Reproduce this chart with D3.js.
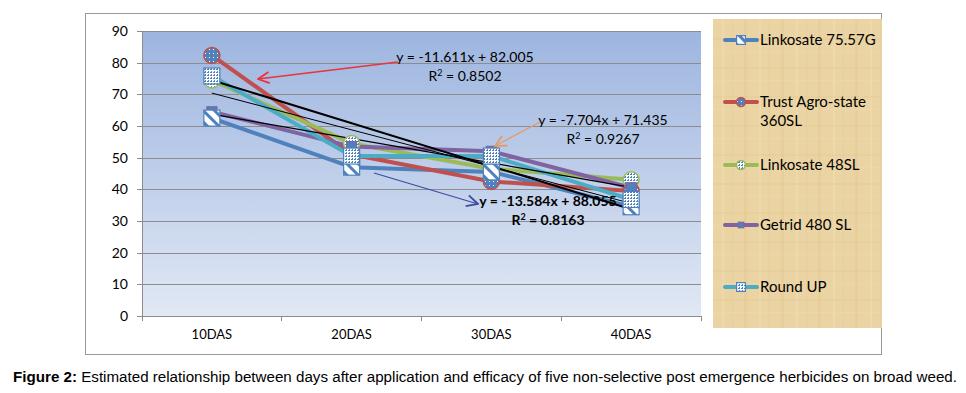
<!DOCTYPE html>
<meta charset="utf-8">
<style>
body { margin: 0; background: #fff; }
svg text { font-family: Lato, "Open Sans", sans-serif; }
.grid line { stroke: #8c8c8c; stroke-width: 1; shape-rendering: crispEdges; }
.axis path, .axis line { stroke: #8c8c8c; stroke-width: 1; shape-rendering: crispEdges; fill: none; }
.axis text { font-size: 14px; fill: #000; }
</style>
<body>
<div id="chart"></div>
<script src="https://d3js.org/d3.v7.min.js"></script>
<script>
// data
var days = ["10DAS", "20DAS", "30DAS", "40DAS"];
var seriesNames = ["Linkosate 75.57G", "Trust Agro-state 360SL", "Linkosate 48SL", "Getrid 480 SL", "Round UP"];
var linkosate7557 = [62.5, 47, 45.5, 34.5];
var trustAgro = [82.3, 51, 42.5, 39.5];
var linkosate48 = [74.5, 54.5, 46.5, 43];
var getrid480 = [64.5, 53.5, 52, 40.5];
var roundUp = [75.8, 50.5, 50.5, 36.8];
var yTicks = [0, 10, 20, 30, 40, 50, 60, 70, 80, 90];
// trendlines: [slope, intercept, R2]
var trendRed = [-11.611, 82.005, 0.8502];
var trendPurple = [-7.704, 71.435, 0.9267];
var trendCyan = [-13.584, 88.055, 0.8163];

var colors = ["#4F81BD", "#C0504D", "#9BBB59", "#8064A2", "#4BACC6"];
var allValues = [linkosate7557, trustAgro, linkosate48, getrid480, roundUp];

var W = 966, H = 393;
var plot = {left: 142, top: 31, right: 701, bottom: 316};

var svg = d3.select("#chart").append("svg")
  .attr("width", W).attr("height", H);

var defs = svg.append("defs");
var grad = defs.append("linearGradient").attr("id", "bg")
  .attr("x1", 0).attr("y1", 0).attr("x2", 0).attr("y2", 1);
grad.append("stop").attr("offset", "0%").attr("stop-color", "#9DB5DF");
grad.append("stop").attr("offset", "100%").attr("stop-color", "#E1E8F5");

// papyrus-like legend fill, kept faint
var pap = defs.append("pattern").attr("id", "papyrus")
  .attr("patternUnits", "userSpaceOnUse").attr("width", 37).attr("height", 29);
pap.append("rect").attr("width", 37).attr("height", 29).attr("fill", "#EBD4A3");
pap.append("rect").attr("x", 4).attr("width", 3).attr("height", 29).attr("fill", "#E3C992").attr("opacity", 0.45);
pap.append("rect").attr("x", 19).attr("width", 2).attr("height", 29).attr("fill", "#F1DDB2").attr("opacity", 0.5);
pap.append("rect").attr("x", 29).attr("width", 1).attr("height", 29).attr("fill", "#E0C58D").attr("opacity", 0.4);
pap.append("rect").attr("y", 9).attr("width", 37).attr("height", 2).attr("fill", "#E2C790").attr("opacity", 0.3);
pap.append("rect").attr("y", 22).attr("width", 37).attr("height", 1).attr("fill", "#F0DCB0").attr("opacity", 0.4);

// marker fills
var dots = defs.append("pattern").attr("id", "dots")
  .attr("patternUnits", "userSpaceOnUse").attr("width", 4).attr("height", 4);
dots.append("rect").attr("width", 4).attr("height", 4).attr("fill", "#4F81BD");
dots.append("rect").attr("x", 1).attr("y", 1).attr("width", 1).attr("height", 1).attr("fill", "#fff");

var check = defs.append("pattern").attr("id", "check")
  .attr("patternUnits", "userSpaceOnUse").attr("width", 3).attr("height", 3);
check.append("rect").attr("width", 3).attr("height", 3).attr("fill", "#fff");
check.append("rect").attr("width", 2).attr("height", 1).attr("fill", "#4F81BD");
check.append("rect").attr("x", 1).attr("y", 2).attr("width", 1).attr("height", 1).attr("fill", "#4F81BD");

var stripe = defs.append("pattern").attr("id", "stripe")
  .attr("patternUnits", "userSpaceOnUse").attr("width", 8).attr("height", 8)
  .attr("patternTransform", "rotate(-45)");
stripe.append("rect").attr("width", 8).attr("height", 8).attr("fill", "#fff");
stripe.append("rect").attr("width", 3).attr("height", 8).attr("fill", "#4F81BD");

var arrowDefs = [["arRed", "#E8343A"], ["arOrange", "#E39B6A"], ["arBlue", "#3C4BA0"]];
arrowDefs.forEach(function(a) {
  defs.append("marker").attr("id", a[0]).attr("viewBox", "0 0 10 10")
    .attr("refX", 9).attr("refY", 5).attr("markerWidth", 14).attr("markerHeight", 14)
    .attr("markerUnits", "userSpaceOnUse").attr("orient", "auto")
    .append("path").attr("d", "M1,1 L9,5 L1,9").attr("fill", "none")
    .attr("stroke", a[1]).attr("stroke-width", 1.3);
});

// outer frame
svg.append("rect").attr("x", 85.5).attr("y", 13.5).attr("width", 796).attr("height", 341)
  .attr("fill", "#fff").attr("stroke", "#999").attr("stroke-width", 1);

var x = d3.scaleBand().domain(days).range([plot.left, plot.right]);
var y = d3.scaleLinear().domain([0, 90]).range([plot.bottom, plot.top]);
var xPos = function(i) { return x(days[i]) + x.bandwidth() / 2; };

svg.append("rect").attr("x", plot.left).attr("y", plot.top)
  .attr("width", plot.right - plot.left).attr("height", plot.bottom - plot.top)
  .attr("fill", "url(#bg)");

svg.append("g").attr("class", "grid")
  .selectAll("line").data(yTicks.slice(1)).enter().append("line")
  .attr("x1", plot.left).attr("x2", plot.right)
  .attr("y1", d => Math.round(y(d)) + 0.5).attr("y2", d => Math.round(y(d)) + 0.5);

svg.append("g").attr("class", "axis")
  .attr("transform", "translate(" + plot.left + ",0)")
  .call(d3.axisLeft(y).tickValues(yTicks).tickSize(5).tickSizeOuter(0).tickPadding(9))
  .selectAll("text").style("font-size", "14px");

var xa = svg.append("g").attr("class", "axis")
  .attr("transform", "translate(0," + plot.bottom + ")")
  .call(d3.axisBottom(x).tickSize(0).tickPadding(14));
xa.selectAll("text").style("font-size", "13px");
xa.selectAll(".bnd").data(days.concat([null])).enter().append("line")
  .attr("x1", (d, i) => i < days.length ? x(d) : plot.right)
  .attr("x2", (d, i) => i < days.length ? x(d) : plot.right)
  .attr("y1", 0).attr("y2", 5);

// series lines
var line = d3.line().x((d, i) => xPos(i)).y(d => y(d));
allValues.forEach(function(vals, k) {
  svg.append("path").datum(vals).attr("d", line)
    .attr("fill", "none").attr("stroke", colors[k]).attr("stroke-width", 4)
    .attr("stroke-linejoin", "round");
});

// trendlines
var trendLine = function(t, w) {
  svg.append("line")
    .attr("x1", xPos(0)).attr("y1", y(t[0] * 1 + t[1]))
    .attr("x2", xPos(3)).attr("y2", y(t[0] * 4 + t[1]))
    .attr("stroke", "#000").attr("stroke-width", w);
};
trendLine(trendRed, 1);
trendLine(trendPurple, 1.2);
trendLine(trendCyan, 2);

// markers
function drawMarker(g, k, cx, cy, small) {
  var s = small ? 0.55 : 1;
  if (k === 0) {
    g.append("rect").attr("x", cx - 8 * s).attr("y", cy - 8 * s).attr("width", 16 * s).attr("height", 16 * s)
      .attr("fill", "url(#stripe)").attr("stroke", "#4F81BD").attr("stroke-width", 1.2);
  } else if (k === 1) {
    g.append("circle").attr("cx", cx).attr("cy", cy).attr("r", 8 * s)
      .attr("fill", "url(#dots)").attr("stroke", "#C0504D").attr("stroke-width", 1.5);
  } else if (k === 2) {
    g.append("circle").attr("cx", cx).attr("cy", cy).attr("r", 8 * s)
      .attr("fill", "url(#check)").attr("stroke", "#9BBB59").attr("stroke-width", 1.5);
  } else if (k === 3) {
    g.append("rect").attr("x", cx - 5 * s).attr("y", cy - 5 * s).attr("width", 10 * s).attr("height", 10 * s)
      .attr("fill", "#4F81BD").attr("stroke", "#8064A2").attr("stroke-width", 1.2);
  } else {
    g.append("rect").attr("x", cx - 8 * s).attr("y", cy - 8 * s).attr("width", 16 * s).attr("height", 16 * s)
      .attr("fill", "url(#check)").attr("stroke", "#4F81BD").attr("stroke-width", 1.2);
  }
}
var mg = svg.append("g");
[2, 1, 3, 0, 4].forEach(function(k) {
  allValues[k].forEach(function(v, i) { drawMarker(mg, k, xPos(i), y(v), false); });
});

// equation labels and arrows
function eq(t) {
  return "y = " + t[0] + "x + " + t[1].toFixed(3);
}
function label(t, cx, cy, bold) {
  var g = svg.append("g").style("font-size", "14px").style("font-weight", bold ? "bold" : "normal");
  g.append("text").attr("x", cx).attr("y", cy).attr("text-anchor", "middle").text(eq(t));
  var r = g.append("text").attr("x", cx).attr("y", cy + 19).attr("text-anchor", "middle");
  r.append("tspan").text("R");
  r.append("tspan").attr("dy", -5).style("font-size", "9px").text("2");
  r.append("tspan").attr("dy", 5).text(" = " + t[2]);
}
label(trendRed, 465, 62, false);
label(trendPurple, 603, 125, false);
label(trendCyan, 548, 206, true);

svg.append("line").attr("x1", 398).attr("y1", 62).attr("x2", 258).attr("y2", 79)
  .attr("stroke", "#E8343A").attr("stroke-width", 1.3).attr("marker-end", "url(#arRed)");
svg.append("line").attr("x1", 540).attr("y1", 122).attr("x2", 495).attr("y2", 146)
  .attr("stroke", "#E39B6A").attr("stroke-width", 1.3).attr("marker-end", "url(#arOrange)");
svg.append("line").attr("x1", 374).attr("y1", 173).attr("x2", 478).attr("y2", 204)
  .attr("stroke", "#3C4BA0").attr("stroke-width", 1.2).attr("marker-end", "url(#arBlue)");

// legend
var lg = svg.append("g");
lg.append("rect").attr("x", 713).attr("y", 19).attr("width", 169).attr("height", 309)
  .attr("fill", "url(#papyrus)");
var legY = [40, 102, 165, 225, 287];
seriesNames.forEach(function(name, k) {
  lg.append("line").attr("x1", 725).attr("x2", 757).attr("y1", legY[k]).attr("y2", legY[k])
    .attr("stroke", colors[k]).attr("stroke-width", 4).attr("stroke-linecap", "round");
  drawMarker(lg, k, 741, legY[k], true);
  var t = lg.append("text").attr("x", 760).attr("y", legY[k] + 5).style("font-size", "15px");
  if (k === 1) {
    t.append("tspan").text("Trust Agro-state");
    t.append("tspan").attr("x", 760).attr("dy", 19).text("360SL");
  } else {
    t.text(name);
  }
});

// caption
var cap = svg.append("text").attr("x", 13).attr("y", 382)
  .attr("textLength", 944).attr("lengthAdjust", "spacingAndGlyphs")
  .style("font-family", "'Liberation Sans', Arial, sans-serif").style("font-size", "14px");
cap.append("tspan").style("font-weight", "bold").text("Figure 2:");
cap.append("tspan").text(" Estimated relationship between days after application and efficacy of five non-selective post emergence herbicides on broad weed.");
</script>
</body>
